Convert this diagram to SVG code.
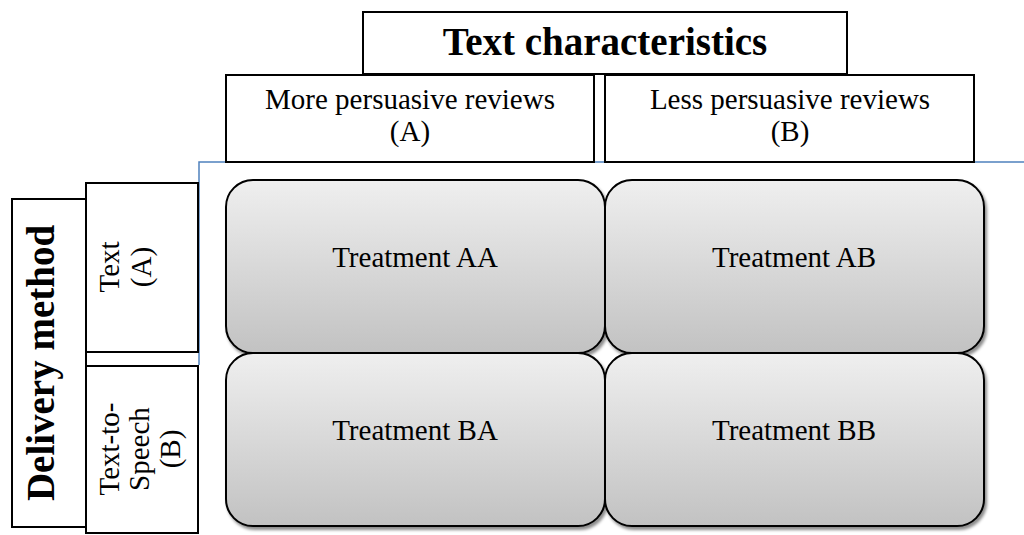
<svg xmlns="http://www.w3.org/2000/svg" width="1024" height="535" viewBox="0 0 1024 535">
<style>
.box{fill:#fff;stroke:#000;stroke-width:2}
.t{font-family:"Liberation Serif","Times New Roman",serif;font-size:29px;fill:#000;text-anchor:middle}
.b{font-family:"Liberation Serif","Times New Roman",serif;font-size:39px;font-weight:bold;fill:#000;text-anchor:middle}
.tr{fill:url(#g);stroke:#000;stroke-width:2;filter:url(#sh)}
</style>
<defs>
<linearGradient id="g" x1="0" y1="0" x2="0" y2="1">
<stop offset="0" stop-color="#efefef"/>
<stop offset="1" stop-color="#c2c2c2"/>
</linearGradient>
<filter id="sh" x="-5%" y="-5%" width="115%" height="115%">
<feDropShadow dx="2" dy="3" stdDeviation="1.5" flood-color="#000" flood-opacity="0.45"/>
</filter>
</defs>
<rect width="1024" height="535" fill="#fff"/>
<g id="connectors">
<path d="M199 365 V162 H1024" fill="none" stroke="#4f81bd" stroke-width="1.5"/>
</g>
<g id="title">
<rect class="box" x="363" y="12" width="484" height="62"/>
<text class="b" x="605" y="55">Text characteristics</text>
</g>
<g id="colA">
<rect class="box" x="226" y="75" width="368" height="87"/>
<text class="t" x="410" y="109">More persuasive reviews</text>
<text class="t" x="410" y="141">(A)</text>
</g>
<g id="colB">
<rect class="box" x="605" y="75" width="369" height="87"/>
<text class="t" x="790" y="109">Less persuasive reviews</text>
<text class="t" x="790" y="141">(B)</text>
</g>
<g id="delivery">
<rect class="box" x="12" y="199" width="74" height="328"/>
<text class="b" transform="translate(54 363) rotate(-90)">Delivery method</text>
</g>
<g id="rowA">
<rect class="box" x="86" y="183" width="112" height="169"/>
<text class="t" transform="translate(119 267) rotate(-90)">Text</text>
<text class="t" transform="translate(151 267) rotate(-90)">(A)</text>
</g>
<g id="rowB">
<rect class="box" x="86" y="366" width="112" height="167"/>
<text class="t" transform="translate(119 449) rotate(-90)">Text-to-</text>
<text class="t" transform="translate(149 449) rotate(-90)">Speech</text>
<text class="t" transform="translate(180 449) rotate(-90)">(B)</text>
</g>
<g id="treatmentAA">
<rect class="tr" x="226" y="180" width="379" height="173" rx="27"/>
<text class="t" x="415" y="267">Treatment AA</text>
</g>
<g id="treatmentAB">
<rect class="tr" x="605" y="180" width="379" height="173" rx="27"/>
<text class="t" x="794" y="267">Treatment AB</text>
</g>
<g id="treatmentBA">
<rect class="tr" x="226" y="353" width="379" height="173" rx="27"/>
<text class="t" x="415" y="440">Treatment BA</text>
</g>
<g id="treatmentBB">
<rect class="tr" x="605" y="353" width="379" height="173" rx="27"/>
<text class="t" x="794" y="440">Treatment BB</text>
</g>
</svg>
